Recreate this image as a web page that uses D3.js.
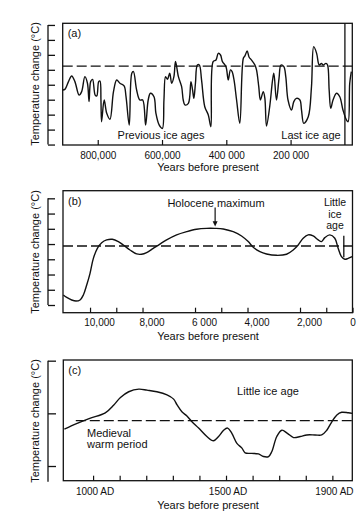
<!DOCTYPE html>
<html>
<head>
<meta charset="utf-8">
<script src="https://cdn.jsdelivr.net/npm/d3@7"></script>
<style>
  body { margin: 0; background: #fff; }
  svg { font-family: "Liberation Sans", Arial, sans-serif; }
</style>
</head>
<body>
<svg id="chart" width="363" height="517"></svg>
<script>
// (a) thousands of years before present / temperature (tick units)
const yearsA = [909, 902, 891, 881, 871, 858, 850, 840, 832, 827, 822, 816, 808, 803, 797, 793, 790, 788, 780, 772,
  762, 751, 741, 731, 718, 712, 702, 694, 689, 679, 669, 660, 651, 643, 636, 625, 619, 609, 599, 594,
  589, 583, 576, 570, 563, 558, 549, 539, 534, 529, 518, 510, 505, 501, 496, 490, 484, 477, 467, 456,
  448, 441, 432, 425, 418, 412, 401, 394, 387, 382, 376, 368, 358, 347, 342, 335, 329, 322, 311, 306,
  299, 294, 285, 280, 275, 265, 256, 252, 244, 236, 230, 221, 215, 208, 197, 190, 182, 171, 166, 159,
  145, 135, 128, 119, 111, 104, 99, 90, 85, 80, 75, 68, 57, 47, 37, 26, 21, 16, 11];
const tempA = [3.65, 3.69, 4.21, 4.59, 4.21, 3.31, 3.54, 4.54, 4.10, 2.87, 4.21, 4.36, 3.31, 3.25, 4.21, 4.25, 2.98, 1.53, 2.98, 2.09,
  1.69, 3.54, 4.32, 4.10, 3.92, 3.20, 1.31, 4.77, 4.88, 3.65, 2.98, 2.98, 1.31, 2.98, 3.43, 3.20, 2.09, 1.31, 1.08, 2.98,
  4.54, 4.36, 4.77, 4.10, 4.54, 5.55, 4.54, 3.87, 2.98, 2.65, 2.76, 4.21, 3.65, 3.09, 4.10, 5.32, 5.32, 4.32, 2.53, 1.98,
  1.19, 5.55, 5.66, 6.10, 5.99, 5.55, 5.21, 4.32, 4.99, 4.88, 4.32, 2.98, 1.42, 5.77, 5.93, 6.26, 5.84, 5.66, 5.32, 4.99,
  3.87, 2.98, 3.54, 3.09, 1.24, 2.53, 4.32, 4.77, 2.98, 4.43, 5.32, 5.21, 4.54, 2.98, 2.31, 2.87, 3.09, 2.98, 2.31, 1.42,
  1.86, 3.87, 6.55, 6.10, 5.32, 5.43, 5.32, 5.43, 5.32, 3.65, 2.42, 2.98, 3.43, 3.20, 2.31, 1.64, 1.53, 4.10, 4.88];
const refA = 5.25;
const lastIceAgeEnd = 31;
const ticksA = [800, 600, 400, 200];
const tickLabelsA = ["800,000", "600,000", "400 000", "200 000"];

// (b) years before present
const yearsB = [11016, 10888, 10698, 10533, 10381, 10254, 10127, 10000, 9873, 9721, 9556, 9366, 9150, 8922, 8732, 8478, 8224,
  8034, 7844, 7590, 7336, 7082, 6701, 6320, 5940, 5559, 5242, 4925, 4544, 4227, 3973, 3782, 3528, 3275, 2894,
  2513, 2260, 2069, 1879, 1689, 1499, 1308, 1181, 1054, 864, 674, 547, 420, 293, 166, 14];
const tempB = [0.66, 0.50, 0.33, 0.26, 0.33, 0.66, 1.31, 2.08, 3.06, 3.72, 4.09, 4.27, 4.31, 4.16, 3.94, 3.61, 3.35,
  3.33, 3.44, 3.72, 4.00, 4.27, 4.60, 4.81, 4.97, 5.03, 5.03, 4.99, 4.81, 4.53, 4.16, 3.79, 3.50, 3.35, 3.26,
  3.33, 3.61, 3.94, 4.38, 4.60, 4.53, 4.27, 4.16, 4.42, 4.60, 4.38, 3.72, 3.17, 3.00, 3.06, 3.17];
const refB = 3.87;
const holoceneMax = 5234;
const littleIceAgeB = 331;
const ticksB = [10000, 9000, 8000, 6000, 5000, 4000, 2000, 1000, 0];
const tickLabelsB = {10000: "10,000", 8000: "8,000", 6000: "6 000", 4000: "4,000", 2000: "2,000", 0: "0"};

// (c) year AD
const yearsC = [892, 940, 990, 1046, 1078, 1103, 1134, 1172, 1203, 1240, 1278, 1303, 1316, 1334, 1353, 1372, 1397, 1428,
  1453, 1472, 1491, 1506, 1522, 1541, 1560, 1572, 1597, 1622, 1641, 1660, 1672, 1691, 1710, 1731, 1754, 1779,
  1804, 1835, 1860, 1879, 1898, 1917, 1935, 1960, 1975];
const tempC = [-0.30, -0.19, -0.09, 0.01, 0.16, 0.30, 0.41, 0.46, 0.44, 0.41, 0.35, 0.27, 0.16, 0.03, -0.05, -0.16, -0.28, -0.44,
  -0.52, -0.44, -0.32, -0.28, -0.38, -0.57, -0.66, -0.75, -0.76, -0.77, -0.82, -0.82, -0.73, -0.44, -0.32, -0.38, -0.46, -0.44,
  -0.41, -0.41, -0.41, -0.32, -0.16, -0.03, 0.02, 0.01, 0.00];
const refC = -0.14;
const refStartC = 935;
const ticksC = [1000, 1100, 1200, 1300, 1400, 1500, 1600, 1700, 1800, 1900];
const tickLabelsC = {1000: "1000 AD", 1500: "1500 AD", 1900: "1900 AD"};

const svg = d3.select('#chart');
const ink = '#111';

function panel(cfg) {
  const g = svg.append('g');
  const x = d3.scaleLinear().domain(cfg.xDomain).range([cfg.left, cfg.right]);
  const y = d3.scaleLinear().domain(cfg.yDomain).range([cfg.bottom, cfg.top]);

  // frame
  g.append('rect')
    .attr('x', cfg.left).attr('y', cfg.top)
    .attr('width', cfg.right - cfg.left).attr('height', cfg.bottom - cfg.top)
    .attr('fill', 'none').attr('stroke', ink).attr('stroke-width', 1.3);

  // detached left axis
  const ya = g.append('g')
    .attr('transform', 'translate(48,0)')
    .call(d3.axisRight(y).tickValues(cfg.yTicks).tickSize(cfg.yTickLen).tickFormat(''));
  ya.select('.domain').remove();
  ya.selectAll('line').attr('stroke', ink).attr('stroke-width', 1.3);
  ya.append('line')
    .attr('x1', 0).attr('x2', 0)
    .attr('y1', y(cfg.axisExtent[0])).attr('y2', y(cfg.axisExtent[1]))
    .attr('stroke', ink).attr('stroke-width', 1.3);

  // bottom ticks (inside the frame)
  const xa = g.append('g')
    .attr('transform', 'translate(0,' + cfg.bottom + ')')
    .call(d3.axisBottom(x).tickValues(cfg.xTicks).tickSizeInner(-5).tickSizeOuter(0)
      .tickPadding(cfg.pad).tickFormat(cfg.fmt));
  xa.select('.domain').remove();
  xa.selectAll('line').attr('stroke', ink).attr('stroke-width', 1.2);
  xa.selectAll('text')
    .attr('fill', ink)
    .style('font-size', '10px')
    .attr('dx', cfg.labelDx || 0);

  // reference level
  g.append('line')
    .attr('x1', x(cfg.refStart != null ? cfg.refStart : cfg.xDomain[0])).attr('x2', cfg.right)
    .attr('y1', y(cfg.ref)).attr('y2', y(cfg.ref))
    .attr('stroke', ink).attr('stroke-width', 1.3).attr('stroke-dasharray', '10,4');

  // curve
  const line = d3.line()
    .x(d => x(d[0]))
    .y(d => y(d[1]))
    .curve(d3.curveCatmullRom.alpha(0.5));
  g.append('path')
    .datum(d3.zip(cfg.years, cfg.temps))
    .attr('d', line)
    .attr('fill', 'none').attr('stroke', ink).attr('stroke-width', 1.4)
    .attr('stroke-linejoin', 'round');

  // titles
  g.append('text')
    .attr('x', cfg.left + 5).attr('y', cfg.top + 14)
    .style('font-size', '11px').attr('fill', ink)
    .text(cfg.name);
  g.append('text')
    .attr('x', 208).attr('y', cfg.xTitleY)
    .attr('text-anchor', 'middle')
    .style('font-size', '11px').attr('fill', ink)
    .text('Years before present');
  g.append('text')
    .attr('transform', 'translate(39,' + cfg.yTitleY + ') rotate(-90)')
    .attr('text-anchor', 'middle')
    .style('font-size', '11px').attr('fill', ink)
    .text('Temperature change (°C)');

  return {g, x, y};
}

function note(g, px, py, txt, anchor, size) {
  g.append('text')
    .attr('x', px).attr('y', py)
    .attr('text-anchor', anchor || 'start')
    .style('font-size', (size || 11) + 'px').attr('fill', ink)
    .text(txt);
}

// (a)
const pa = panel({
  name: '(a)', years: yearsA, temps: tempA, xDomain: [909, 8], yDomain: [-0.03, 8.11],
  left: 62.7, right: 352.3, top: 23.3, bottom: 145,
  yTicks: d3.range(0, 9), yTickLen: 7, axisExtent: [0, 8],
  xTicks: ticksA, fmt: (d, i) => tickLabelsA[i], pad: 7,
  ref: refA, xTitleY: 171, yTitleY: 84
});
pa.g.append('line')
  .attr('x1', pa.x(lastIceAgeEnd)).attr('x2', pa.x(lastIceAgeEnd))
  .attr('y1', 23.3).attr('y2', 145)
  .attr('stroke', ink).attr('stroke-width', 1.3);
note(pa.g, 161, 138.5, 'Previous ice ages', 'middle');
note(pa.g, 311, 138.5, 'Last ice age', 'middle');

// (b)
const pb = panel({
  name: '(b)', years: yearsB, temps: tempB, xDomain: [11030, 0], yDomain: [-0.505, 7.5],
  left: 63, right: 352.5, top: 190.7, bottom: 312.7,
  yTicks: d3.range(0, 8), yTickLen: 7, axisExtent: [0, 7],
  xTicks: ticksB, fmt: d => tickLabelsB[d] || '', pad: 6,
  ref: refB, xTitleY: 339.5, yTitleY: 252
});
pb.g.selectAll('.tick text').attr('dx', d => d === 0 ? 0 : 9);
note(pb.g, 216, 206.5, 'Holocene maximum', 'middle');
pb.g.append('line')
  .attr('x1', pb.x(holoceneMax)).attr('x2', pb.x(holoceneMax))
  .attr('y1', pb.y(6.4)).attr('y2', pb.y(5.45))
  .attr('stroke', ink).attr('stroke-width', 1.2);
pb.g.append('path')
  .attr('d', 'M' + (pb.x(holoceneMax) - 2.5) + ',' + pb.y(5.5) + 'L' + (pb.x(holoceneMax) + 2.5) + ',' + pb.y(5.5) +
    'L' + pb.x(holoceneMax) + ',' + pb.y(5.15) + 'Z')
  .attr('fill', ink);
note(pb.g, 335, 206, 'Little', 'middle', 10.5);
note(pb.g, 335, 217.5, 'ice', 'middle', 10.5);
note(pb.g, 335, 229, 'age', 'middle', 10.5);
pb.g.append('line')
  .attr('x1', pb.x(littleIceAgeB)).attr('x2', pb.x(littleIceAgeB))
  .attr('y1', pb.y(4.55)).attr('y2', pb.y(3.13))
  .attr('stroke', ink).attr('stroke-width', 1.3);

// (c)
const pc = panel({
  name: '(c)', years: yearsC, temps: tempC, xDomain: [888, 1975], yDomain: [-1.279, 1.013],
  left: 63.3, right: 352.3, top: 360, bottom: 480.7,
  yTicks: [-1, 0, 1], yTickLen: 8, axisExtent: [-1.3, 1],
  xTicks: ticksC, fmt: d => tickLabelsC[d] || '', pad: 7, labelDx: 1.5,
  ref: refC, refStart: refStartC, xTitleY: 508.5, yTitleY: 421
});
note(pc.g, 268, 394.5, 'Little ice age', 'middle');
note(pc.g, 87, 437, 'Medieval');
note(pc.g, 87, 448, 'warm period');
</script>
</body>
</html>
